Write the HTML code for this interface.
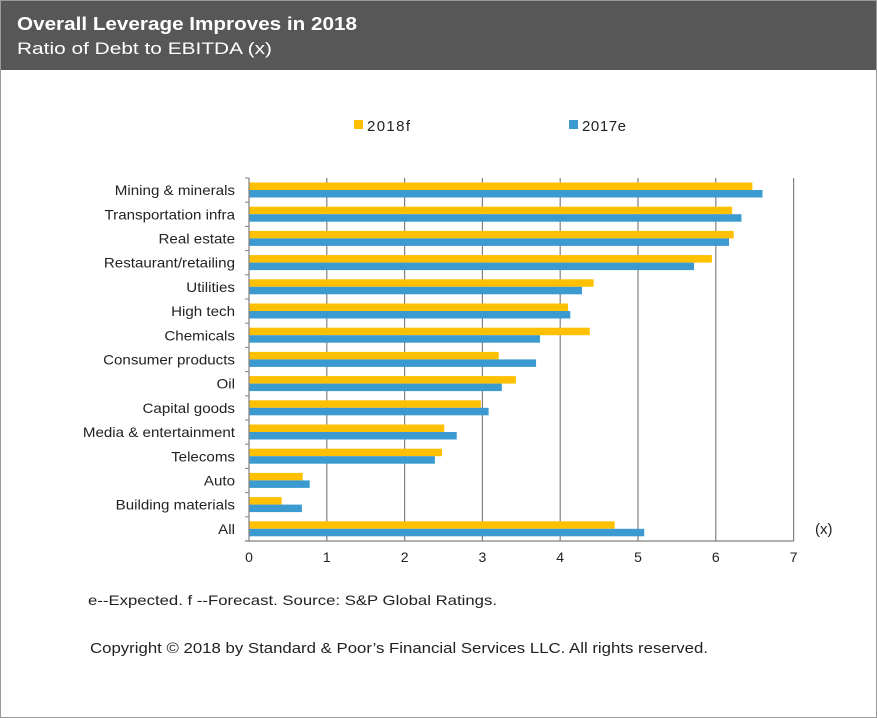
<!DOCTYPE html>
<html><head><meta charset="utf-8"><style>
body{margin:0;background:#fff;}
svg{display:block;font-family:"Liberation Sans",Arial,sans-serif;}
</style></head><body>
<svg width="877" height="718" viewBox="0 0 877 718" xmlns="http://www.w3.org/2000/svg">
<rect x="0.5" y="0.5" width="876" height="717" fill="#fff" stroke="#9a9a9a"/>
<rect x="1" y="1" width="875" height="69" fill="#575757"/>
<text x="17" y="30" fill="#fff" font-size="18" font-weight="bold" textLength="340" lengthAdjust="spacingAndGlyphs">Overall Leverage Improves in 2018</text>
<text x="17" y="54" fill="#fff" font-size="17" textLength="255" lengthAdjust="spacingAndGlyphs">Ratio of Debt to EBITDA (x)</text>
<rect x="354" y="120" width="9" height="9" fill="#FFC000"/>
<text x="367" y="131" font-size="15" fill="#222" textLength="43">2018f</text>
<rect x="569" y="120" width="9" height="9" fill="#3B9BD0"/>
<text x="582" y="131" font-size="15" fill="#222" textLength="44">2017e</text>
<g stroke="#808080" stroke-width="1.2">
<line x1="326.8" y1="178" x2="326.8" y2="541"/>
<line x1="404.6" y1="178" x2="404.6" y2="541"/>
<line x1="482.4" y1="178" x2="482.4" y2="541"/>
<line x1="560.2" y1="178" x2="560.2" y2="541"/>
<line x1="638" y1="178" x2="638" y2="541"/>
<line x1="715.8" y1="178" x2="715.8" y2="541"/>
<line x1="793.6" y1="178" x2="793.6" y2="541"/>
</g>
<g id="bars"></g>
<line x1="249" y1="178" x2="249" y2="541" stroke="#808080" stroke-width="1.2"/>
<line x1="245" y1="541" x2="794" y2="541" stroke="#808080" stroke-width="1.2"/>
<g font-size="14" fill="#222" text-anchor="middle">
<text x="249" y="562">0</text><text x="326.8" y="562">1</text><text x="404.6" y="562">2</text><text x="482.4" y="562">3</text><text x="560.2" y="562">4</text><text x="638" y="562">5</text><text x="715.8" y="562">6</text><text x="793.6" y="562">7</text>
</g>
<text x="815" y="534" font-size="15" fill="#222">(x)</text>
<text x="88" y="605" font-size="14" fill="#222" textLength="409" lengthAdjust="spacingAndGlyphs">e--Expected. f --Forecast. Source: S&amp;P Global Ratings.</text>
<text x="90" y="653" font-size="14.5" fill="#222" textLength="618" lengthAdjust="spacingAndGlyphs">Copyright © 2018 by Standard &amp; Poor’s Financial Services LLC. All rights reserved.</text>
<g font-size="14" fill="#222" text-anchor="end" id="labels"></g>
<script>
(function(){
var d=[["Mining & minerals",6.47,6.6],["Transportation infra",6.21,6.33],["Real estate",6.23,6.17],["Restaurant/retailing",5.95,5.72],["Utilities",4.43,4.28],["High tech",4.1,4.13],["Chemicals",4.38,3.74],["Consumer products",3.21,3.69],["Oil",3.43,3.25],["Capital goods",2.98,3.08],["Media & entertainment",2.51,2.67],["Telecoms",2.48,2.39],["Auto",0.69,0.78],["Building materials",0.42,0.68],["All",4.7,5.08]];
var ns="http://www.w3.org/2000/svg",b=document.getElementById("bars"),l=document.getElementById("labels");
var t0=178,h=363/15;
d.forEach(function(r,i){var y=t0+i*h;
function rc(yy,v,c){var e=document.createElementNS(ns,"rect");e.setAttribute("x",249);e.setAttribute("y",yy);e.setAttribute("width",v*77.8);e.setAttribute("height",7.5);e.setAttribute("fill",c);b.appendChild(e);}
rc(y+4.5,r[1],"#FFC000");rc(y+12,r[2],"#3B9BD0");
var t=document.createElementNS(ns,"text");t.setAttribute("x",235);t.setAttribute("y",y+h/2+5);t.textContent=r[0];l.appendChild(t);
var w=t.getComputedTextLength();t.setAttribute("textLength",(w*1.08).toFixed(1));t.setAttribute("lengthAdjust","spacingAndGlyphs");
var k=document.createElementNS(ns,"line");k.setAttribute("x1",245);k.setAttribute("x2",249);k.setAttribute("y1",y);k.setAttribute("y2",y);k.setAttribute("stroke","#808080");b.appendChild(k);
});
})();
</script>
</svg>
</body></html>
